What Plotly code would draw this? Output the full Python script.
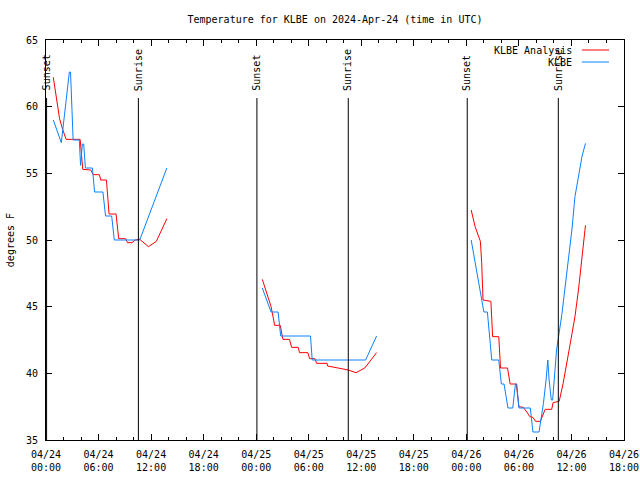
import plotly.graph_objects as go

# ---- data (°F, times in UTC) ----
analysis_times = [
    "2024-04-24 00:50", "2024-04-24 01:10", "2024-04-24 01:33", "2024-04-24 01:54", "2024-04-24 02:18",
    "2024-04-24 03:54", "2024-04-24 04:12", "2024-04-24 05:06", "2024-04-24 05:24", "2024-04-24 06:06",
    "2024-04-24 06:15", "2024-04-24 06:54", "2024-04-24 07:12", "2024-04-24 08:00", "2024-04-24 08:12",
    "2024-04-24 08:18", "2024-04-24 09:06", "2024-04-24 09:18", "2024-04-24 09:48", "2024-04-24 10:12",
    "2024-04-24 10:42", "2024-04-24 11:42", "2024-04-24 12:36", "2024-04-24 13:48",
    "2024-04-24 18:00",
    "2024-04-25 00:42", "2024-04-25 01:42", "2024-04-25 02:00", "2024-04-25 02:06", "2024-04-25 02:45",
    "2024-04-25 03:03", "2024-04-25 03:48", "2024-04-25 04:03", "2024-04-25 04:48", "2024-04-25 04:57",
    "2024-04-25 05:54", "2024-04-25 06:06", "2024-04-25 06:42", "2024-04-25 06:54", "2024-04-25 08:06",
    "2024-04-25 08:09", "2024-04-25 09:21", "2024-04-25 10:30", "2024-04-25 11:24", "2024-04-25 12:24",
    "2024-04-25 13:45",
    "2024-04-25 18:00",
    "2024-04-26 00:33", "2024-04-26 01:00", "2024-04-26 01:36", "2024-04-26 01:45", "2024-04-26 01:54",
    "2024-04-26 02:48", "2024-04-26 03:00", "2024-04-26 03:42", "2024-04-26 03:54", "2024-04-26 04:42",
    "2024-04-26 05:00", "2024-04-26 05:42", "2024-04-26 06:00", "2024-04-26 06:30", "2024-04-26 06:54",
    "2024-04-26 07:15", "2024-04-26 07:36", "2024-04-26 07:54", "2024-04-26 08:27", "2024-04-26 08:42",
    "2024-04-26 09:00", "2024-04-26 09:45", "2024-04-26 09:54", "2024-04-26 10:36", "2024-04-26 11:03",
    "2024-04-26 11:48", "2024-04-26 12:24", "2024-04-26 12:48", "2024-04-26 13:09", "2024-04-26 13:36",
]
analysis_temps = [
    62.2, 60.6, 59.1, 58.3, 57.55,
    57.55, 55.3, 55.25, 54.9, 54.9,
    54.5, 54.5, 51.95, 51.95, 50.25,
    50.1, 50.1, 49.8, 49.8, 50.0,
    50.05, 49.5, 49.9, 51.6,
    None,
    47.05, 45.0, 44.0, 43.6, 43.6,
    42.55, 42.55, 41.95, 41.95, 41.55,
    41.55, 41.1, 41.1, 40.75, 40.75,
    40.55, 40.4, 40.25, 40.05, 40.4,
    41.55,
    None,
    52.25, 51.0, 49.9, 48.3, 45.5,
    45.4, 42.75, 42.75, 40.4, 40.4,
    39.2, 39.2, 37.5, 37.45, 37.1,
    36.75, 36.7, 36.4, 36.4, 36.75,
    37.3, 37.3, 37.8, 37.9, 39.25,
    42.0, 44.25, 46.25, 48.5, 51.1,
]

obs_times = [
    "2024-04-24 00:50", "2024-04-24 01:45", "2024-04-24 02:40", "2024-04-24 02:48", "2024-04-24 03:06",
    "2024-04-24 03:48", "2024-04-24 03:57", "2024-04-24 04:09", "2024-04-24 04:18", "2024-04-24 04:30",
    "2024-04-24 05:18", "2024-04-24 05:33", "2024-04-24 06:30", "2024-04-24 06:48", "2024-04-24 07:30",
    "2024-04-24 07:48", "2024-04-24 10:42", "2024-04-24 13:48",
    "2024-04-24 18:00",
    "2024-04-25 00:42", "2024-04-25 01:42", "2024-04-25 02:30", "2024-04-25 02:48", "2024-04-25 06:12",
    "2024-04-25 06:24", "2024-04-25 12:30", "2024-04-25 13:45",
    "2024-04-25 18:00",
    "2024-04-26 00:33", "2024-04-26 01:24", "2024-04-26 01:48", "2024-04-26 02:00", "2024-04-26 02:24",
    "2024-04-26 02:54", "2024-04-26 03:42", "2024-04-26 04:00", "2024-04-26 04:18", "2024-04-26 04:45",
    "2024-04-26 05:18", "2024-04-26 05:36", "2024-04-26 05:45", "2024-04-26 06:00", "2024-04-26 07:18",
    "2024-04-26 07:36", "2024-04-26 08:18", "2024-04-26 08:48", "2024-04-26 09:06", "2024-04-26 09:18",
    "2024-04-26 09:27", "2024-04-26 09:42", "2024-04-26 09:51", "2024-04-26 10:18", "2024-04-26 10:54",
    "2024-04-26 11:18", "2024-04-26 11:42", "2024-04-26 12:03", "2024-04-26 12:24", "2024-04-26 12:48",
    "2024-04-26 13:12", "2024-04-26 13:36",
]
obs_temps = [
    59.0, 57.3, 62.6, 62.6, 57.5,
    57.5, 55.6, 57.2, 57.2, 55.4,
    55.4, 53.6, 53.6, 51.8, 51.8,
    50.0, 50.0, 55.4,
    None,
    46.4, 44.6, 44.6, 42.8, 42.8,
    41.0, 41.0, 42.8,
    None,
    50.0, 47.0, 45.5, 44.6, 44.6,
    41.0, 41.0, 39.2, 39.2, 37.4,
    37.4, 39.2, 39.2, 37.4, 37.4,
    35.6, 35.6, 37.75, 39.5, 41.0,
    39.5, 38.0, 38.0, 41.75, 44.4,
    46.5, 49.0, 50.75, 53.25, 54.75,
    56.25, 57.25,
]

sun_times = ["2024-04-24 00:04", "2024-04-24 10:33", "2024-04-25 00:05",
             "2024-04-25 10:31", "2024-04-26 00:06", "2024-04-26 10:30"]
sun_labels = ["Sunset", "Sunrise", "Sunset", "Sunrise", "Sunset", "Sunrise"]

series_names = ["KLBE Analysis", "KLBE"]
series_colors = ["#FF0000", "#0A80FF"]

FONT = "DejaVu Sans Mono"

fig = go.Figure()
fig.add_trace(go.Scatter(x=analysis_times, y=analysis_temps, mode="lines",
                         line=dict(color=series_colors[0], width=1), connectgaps=False,
                         name=series_names[0], showlegend=False))
fig.add_trace(go.Scatter(x=obs_times, y=obs_temps, mode="lines",
                         line=dict(color=series_colors[1], width=1), connectgaps=False,
                         name=series_names[1], showlegend=False))

for t, lab in zip(sun_times, sun_labels):
    fig.add_shape(type="line", xref="x", yref="paper", x0=t, x1=t, y0=0, y1=0.855,
                  line=dict(color="black", width=1))
    fig.add_annotation(x=t, xref="x", y=0.868, yref="paper", text=lab, textangle=-90,
                       showarrow=False, xanchor="center", yanchor="bottom",
                       font=dict(family=FONT, size=10, color="black"))

# legend (text to the left of the sample line, as in the reference)
legend_y = [0.975, 0.945]
for name, col, ly in zip(series_names, series_colors, legend_y):
    fig.add_annotation(x=0.913, xref="paper", y=ly, yref="paper", text=name,
                       showarrow=False, xanchor="right", yanchor="middle",
                       font=dict(family=FONT, size=10, color="black"))
    fig.add_shape(type="line", xref="paper", yref="paper", x0=0.927, x1=0.974,
                  y0=ly, y1=ly, line=dict(color=col, width=1))

fig.add_annotation(x=-0.062, xref="paper", y=0.5, yref="paper", text="degrees F",
                   textangle=-90, showarrow=False, xanchor="center", yanchor="middle",
                   font=dict(family=FONT, size=10, color="black"))

fig.update_layout(
    width=640, height=480,
    margin=dict(l=46, r=16, t=40, b=40, autoexpand=False),
    paper_bgcolor="white", plot_bgcolor="white",
    font=dict(family=FONT, size=10, color="black"),
    title=dict(text="Temperature for KLBE on 2024-Apr-24 (time in UTC)", x=0.5, xref="paper",
               xanchor="center", y=1 - 19 / 480, yref="container", yanchor="middle",
               font=dict(family=FONT, size=10, color="black")),
    showlegend=False,
)
fig.update_xaxes(
    type="date", range=["2024-04-24 00:00", "2024-04-26 18:00"],
    tick0="2024-04-24 00:00", dtick=6 * 3600 * 1000, tickformat="%m/%d<br>%H:%M",
    ticks="inside", ticklen=6, tickcolor="black", showline=True, linecolor="black",
    linewidth=1, mirror="ticks", showgrid=False, zeroline=False, automargin=False,
    ticklabelstandoff=5,
    minor=dict(dtick=2 * 3600 * 1000, ticks="inside", ticklen=3, tickcolor="black", showgrid=False),
    tickfont=dict(family=FONT, size=10, color="black"),
)
fig.update_yaxes(
    range=[35, 65], tick0=35, dtick=5,
    ticks="inside", ticklen=6, tickcolor="black", showline=True, linecolor="black",
    linewidth=1, mirror="ticks", showgrid=False, zeroline=False, automargin=False,
    ticklabelstandoff=5,
    tickfont=dict(family=FONT, size=10, color="black"),
)

fig.write_html("out.html", config={"displayModeBar": False, "staticPlot": True},
               post_script="document.body.style.margin='0';")
